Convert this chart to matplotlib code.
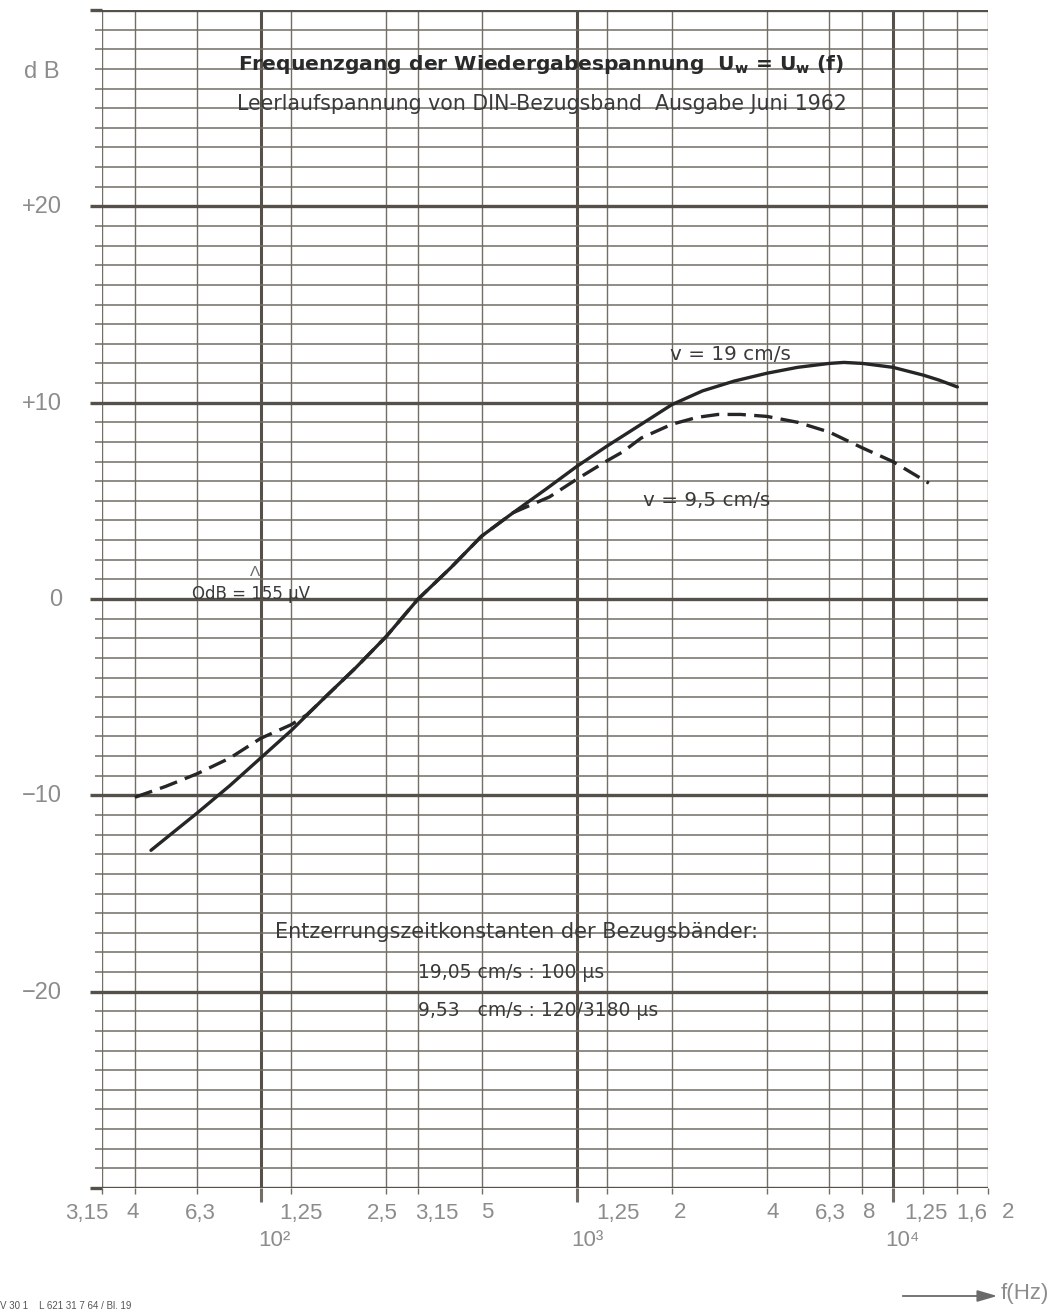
import matplotlib
matplotlib.use("Agg")
import matplotlib.pyplot as plt
import matplotlib.transforms as mtransforms
import numpy as np

plt.rcParams['font.family'] = ['DejaVu Sans']
plt.rcParams['mathtext.fontset'] = 'custom'
plt.rcParams['mathtext.rm'] = 'DejaVu Sans'
plt.rcParams['mathtext.bf'] = 'DejaVu Sans:bold'

# ---------------- data ----------------
grid_freqs = [31.5, 40, 63, 100, 125, 250, 315, 500, 1000, 1250, 2000, 4000,
              6300, 8000, 10000, 12500, 16000, 20000]
decade_freqs = [100, 1000, 10000]
tick_labels = ["3,15", "4", "6,3", "", "1,25", "2,5", "3,15", "5", "",
               "1,25", "2", "4", "6,3", "8", "", "1,25", "1,6", "2"]
decade_labels = ["10²", "10³", "10⁴"]
y_ticks = [20, 10, 0, -10, -20]
y_tick_labels = ["+20", "+10", "0", "\u221210", "\u221220"]

f_19 = [45, 63, 80, 100, 125, 160, 200, 250, 315, 400, 500, 630, 800, 1000, 1250,
        1600, 2000, 2500, 3150, 4000, 5000, 6300, 7000, 8000, 10000, 12500, 14000, 16000]
db_19 = [-12.8, -10.9, -9.5, -8.1, -6.7, -5.0, -3.5, -1.9, 0.0, 1.6, 3.2, 4.4, 5.6,
         6.75, 7.8, 8.9, 9.9, 10.6, 11.1, 11.5, 11.8, 12.0, 12.05, 12.0, 11.8, 11.4,
         11.15, 10.8]

f_95 = [40, 50, 63, 80, 100, 125, 140, 200, 250, 315, 400, 500, 630, 820, 1000, 1250,
        1400, 1600, 2000, 2400, 2800, 3300, 4000, 5000, 6300, 8000, 10000, 13000]
db_95 = [-10.1, -9.55, -8.9, -8.1, -7.1, -6.4, -5.9, -3.5, -1.9, 0.0, 1.6, 3.2, 4.4,
         5.2, 6.1, 7.05, 7.5, 8.2, 8.9, 9.25, 9.4, 9.4, 9.3, 9.0, 8.5, 7.7, 7.0, 5.9]

# ---------------- figure ----------------
W, H = 1052, 1316
fig = plt.figure(figsize=(W / 100, H / 100), dpi=100)
fig.patch.set_facecolor("white")

def fx(px):
    return px / W

def fy(py):
    return 1 - py / H

left, right, top, bottom = 102, 988, 10, 1188
ax = fig.add_axes([fx(left), fy(bottom), fx(right - left), (bottom - top) / H])
ax.set_xscale("log")
ax.set_xlim(31.5, 20000)
ax.set_ylim(-30, 30)
for s in ax.spines.values():
    s.set_visible(False)

grid_c = "#726d65"
grid_dark = "#55504a"
for f in grid_freqs:
    thick = f in decade_freqs
    ax.axvline(f, color=grid_dark if thick else grid_c, lw=2.2 if thick else 1.0, zorder=1)
for d in range(-30, 31):
    thick = d % 10 == 0
    ax.axhline(d, color=grid_dark if thick else grid_c, lw=2.4 if thick else 1.1, zorder=1)

ax.set_xticks(grid_freqs)
ax.set_xticklabels([])
ax.xaxis.set_minor_locator(matplotlib.ticker.NullLocator())
ax.tick_params(axis="x", which="major", direction="out", color=grid_c, width=1.0, length=4)
for t, f in zip(ax.xaxis.get_major_ticks(), grid_freqs):
    if f in decade_freqs:
        t.tick1line.set_markersize(10)
        t.tick1line.set_markeredgewidth(2.2)
        t.tick1line.set_color(grid_dark)

ax.set_yticks(range(-30, 31), minor=True)
ax.set_yticks(range(-30, 31, 10))
ax.set_yticklabels([])
ax.tick_params(axis="y", which="minor", direction="out", length=5, width=1.1, color=grid_c)
ax.tick_params(axis="y", which="major", direction="out", length=9, width=2.4, color=grid_dark)

# x tick labels (two rows), with small print offsets as in the original
lab_c = "#8c8c8c"
lab_font = ['Liberation Sans', 'DejaVu Sans']
xt = mtransforms.blended_transform_factory(ax.transData, ax.transAxes)
label_dx = [-15, -2, 3, 0, 10, -4, 19, 6, 0, 11, 8, 6, 1, 7, 0, 2, 14, 20]
row1 = -(1213 - bottom) / (bottom - top)
row2 = -(1241 - bottom) / (bottom - top)
for f, lab, dx in zip(grid_freqs, tick_labels, label_dx):
    if not lab:
        continue
    tr = xt + mtransforms.ScaledTranslation(dx / 100, 0, fig.dpi_scale_trans)
    ax.text(f, row1, lab, transform=tr, ha="center", va="center", fontsize=16,
            color=lab_c, family=lab_font, clip_on=False)
for f, lab, dx in zip(decade_freqs, decade_labels, [14, 11, 10]):
    tr = xt + mtransforms.ScaledTranslation(dx / 100, 0, fig.dpi_scale_trans)
    ax.text(f, row2, lab, transform=tr, ha="center", va="center", fontsize=16,
            color=lab_c, family=lab_font, clip_on=False)

# curves
ax.plot(f_19, db_19, color="#262626", lw=2.4, solid_capstyle="round",
        solid_joinstyle="round", zorder=3)
ax.plot(f_95, db_95, color="#262626", lw=2.4, dashes=(5.5, 2.5),
        dash_joinstyle="round", zorder=3)

# y labels
for v, lab in zip(y_ticks, y_tick_labels):
    ypx = 600 - v * 19.65
    fig.text(fx(62), fy(ypx), lab, ha="right", va="center", fontsize=17, color=lab_c,
             family=lab_font)
fig.text(fx(60), fy(72), "d B", ha="right", va="center", fontsize=17, color=lab_c,
         family=lab_font)

# titles
txt = "#2a2a2a"
body = "#3a3a3a"
fig.text(fx(238), fy(65), r"Frequenzgang der Wiedergabespannung  U$_\mathbf{w}$ = U$_\mathbf{w}$ (f)",
         ha="left", va="center", fontsize=14.6, fontweight="bold", color=txt)
fig.text(fx(237), fy(104), "Leerlaufspannung von DIN-Bezugsband  Ausgabe Juni 1962",
         ha="left", va="center", fontsize=14.8, color=body)

fig.text(fx(670), fy(355), "v = 19 cm/s", ha="left", va="center", fontsize=14.4, color=body)
fig.text(fx(643), fy(500), "v = 9,5 cm/s", ha="left", va="center", fontsize=14.4, color=body)
fig.text(fx(192), fy(594), "OdB = 155 \u00b5V", ha="left", va="center", fontsize=12, color=body)
fig.text(fx(255), fy(572), "\u039b", ha="center", va="center", fontsize=11, color="#6a6a6a",
         family=lab_font)

fig.text(fx(275), fy(932), "Entzerrungszeitkonstanten der Bezugsbänder:", ha="left", va="center",
         fontsize=15, color=body)
fig.text(fx(418), fy(972), "19,05 cm/s : 100 \u00b5s", ha="left", va="center",
         fontsize=13.5, color=body)
fig.text(fx(418), fy(1011), "9,53   cm/s : 120/3180 \u00b5s", ha="left", va="center",
         fontsize=13.5, color=body)

# axis caption with arrow
ax.annotate("", xy=(fx(1000), fy(1296)), xytext=(fx(900), fy(1296)), xycoords="figure fraction",
            textcoords="figure fraction",
            arrowprops=dict(arrowstyle="-|>,head_length=1.2,head_width=0.35", color="#6a6a6a", lw=1.3))
fig.text(fx(1049), fy(1294), "f(Hz)", ha="right", va="center", fontsize=16, color=lab_c,
         family=lab_font)
fig.text(fx(0), fy(1306), "V 30 1    L 621 31 7 64 / Bl. 19", ha="left", va="center",
         fontsize=7, color="#555555", family=lab_font)

fig.savefig("out.png", dpi=100, facecolor="white")
